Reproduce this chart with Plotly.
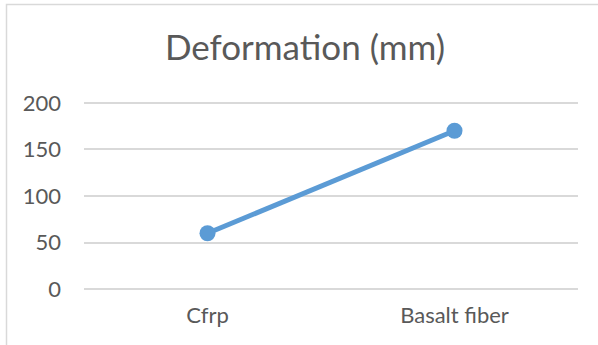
import plotly.graph_objects as go

categories = ["Cfrp", "Basalt fiber"]
deformation_mm = [60, 170]
y_ticks = [0, 50, 100, 150, 200]

W, H = 598, 345
ML, MR, MT, MB = 84, 20, 100, 53

text_color = "#595959"
grid_color = "#d9d9d9"
series_color = "#5b9bd5"
font_family = "Lato, Calibri, 'Open Sans', sans-serif"

fig = go.Figure(
    go.Scatter(
        x=categories,
        y=deformation_mm,
        mode="lines+markers",
        line=dict(color=series_color, width=5),
        marker=dict(color=series_color, size=16),
        hoverinfo="x+y",
    )
)

# chart-area border (extends past the right/bottom edge of the page)
pw = W - ML - MR
ph = H - MT - MB
fig.add_shape(
    type="rect",
    xref="paper", yref="paper",
    x0=(6.5 - ML) / pw, x1=(W + 10 - ML) / pw,
    y0=-(H + 10 - (H - MB)) / ph, y1=1 + (MT - 4.5) / ph,
    line=dict(color=grid_color, width=1.5),
    fillcolor="rgba(0,0,0,0)",
    layer="below",
)

fig.update_layout(
    width=W, height=H,
    margin=dict(l=ML, r=MR, t=MT, b=MB, autoexpand=False),
    paper_bgcolor="white",
    plot_bgcolor="white",
    showlegend=False,
    font=dict(family=font_family, color=text_color),
    title=dict(
        text="Deformation (mm)",
        x=0.51, xanchor="center",
        y=1 - 48 / H, yanchor="middle",
        yref="container",
        font=dict(size=35, color=text_color, family=font_family),
    ),
    xaxis=dict(
        type="category",
        range=[-0.5, 1.5],
        showgrid=False,
        showline=False,
        zeroline=False,
        ticks="",
        tickfont=dict(size=22, color=text_color),
        ticklabelstandoff=8,
        automargin=False,
    ),
    yaxis=dict(
        range=[-3, 203],
        tickvals=y_ticks,
        showgrid=True,
        gridcolor=grid_color,
        gridwidth=1.5,
        zeroline=False,
        showline=False,
        ticks="",
        tickfont=dict(size=22, color=text_color),
        ticklabelstandoff=22,
        automargin=False,
    ),
)

fig.write_html("out.html")
